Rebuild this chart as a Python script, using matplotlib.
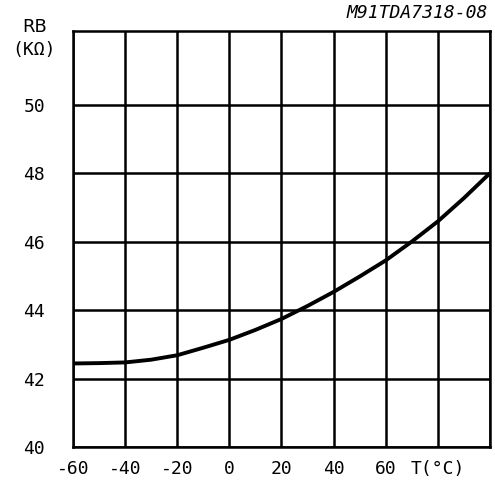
import matplotlib
matplotlib.use("Agg")
import matplotlib.pyplot as plt

# values
temp_c = [-60, -50, -40, -30, -20, -10, 0, 10, 20, 30, 40, 50, 60, 70, 80, 90, 100]
rb_kohm = [42.44, 42.45, 42.47, 42.55, 42.68, 42.9, 43.13, 43.42, 43.74, 44.12,
           44.53, 44.98, 45.45, 46.0, 46.59, 47.27, 48.0]

x_ticks = [-60, -40, -20, 0, 20, 40, 60, 80, 100]
x_labels = ["-60", "-40", "-20", "0", "20", "40", "60", "T(°C)", ""]
y_ticks = [40, 42, 44, 46, 48, 50]
y_labels = ["40", "42", "44", "46", "48", "50"]

mono = "DejaVu Sans Mono"

fig = plt.figure(figsize=(4.95, 4.82), dpi=100)
ax = fig.add_axes([73 / 495, 35 / 482, 417 / 495, 416 / 482])

ax.plot(temp_c, rb_kohm, color="black", lw=2.8, solid_capstyle="butt")

ax.set_xlim(-60, 100)
ax.set_ylim(40, 52.15)
ax.set_xticks(x_ticks)
ax.set_xticklabels(x_labels, fontfamily=mono, fontsize=13)
ax.set_yticks(y_ticks)
ax.set_yticklabels(y_labels, fontfamily=mono, fontsize=13)
ax.tick_params(length=0)
ax.tick_params(axis="y", pad=20)
ax.tick_params(axis="x", pad=9)
ax.grid(True, color="black", lw=1.8)
for s in ax.spines.values():
    s.set_linewidth(1.8)

fig.text(35 / 495, 1 - 27 / 482, "RB", ha="center", va="center",
         fontsize=13, fontfamily="DejaVu Sans")
fig.text(34 / 495, 1 - 50 / 482, "(KΩ)", ha="center", va="center",
         fontsize=13, fontfamily=mono)
fig.text(488 / 495, 1 - 13 / 482, "M91TDA7318-08", ha="right", va="center",
         fontsize=13, fontfamily=mono, style="italic")

fig.savefig("out.png", dpi=100)
